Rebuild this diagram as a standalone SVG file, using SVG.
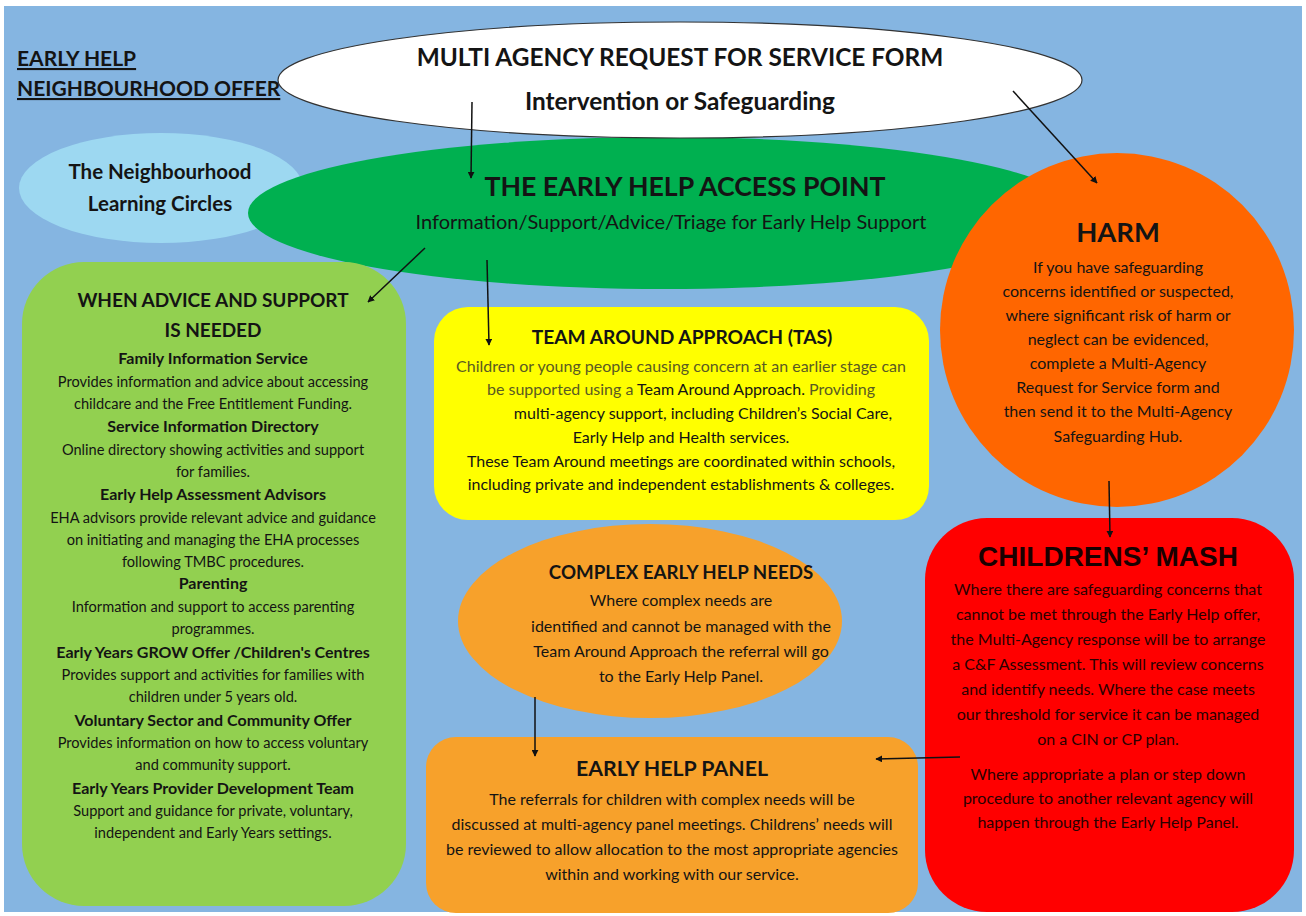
<svg xmlns="http://www.w3.org/2000/svg" width="1306" height="916" viewBox="0 0 1306 916">
<style>
text{font-family:Lato,"Open Sans","Liberation Sans",sans-serif;text-anchor:middle;fill:#141414}
.b{font-weight:bold}
.body{font-size:14.6px}
.bh{font-size:16px;font-weight:bold}
.t15{font-size:16px}
.lead{font-size:19px;font-weight:bold}
.conn line{stroke:#111;stroke-width:1.5;marker-end:url(#ah)}
.gray{fill:#5a5a22}
.dr{fill:#2a0000}
</style>
<defs>
<marker id="ah" viewBox="0 0 10 10" refX="9" refY="5" markerWidth="7" markerHeight="7" orient="auto" markerUnits="userSpaceOnUse">
<path d="M0,0 L10,5 L0,10 z" fill="#111"/>
</marker>
</defs>
<rect x="0" y="0" width="1306" height="916" fill="#fff"/>
<rect x="4" y="6" width="1298" height="906" fill="#85b5e1"/>

<g id="title">
<text x="17" y="66" style="text-anchor:start;font-size:21px;font-weight:bold;text-decoration:underline">EARLY HELP</text>
<text x="17" y="96" style="text-anchor:start;font-size:21px;font-weight:bold;text-decoration:underline">NEIGHBOURHOOD OFFER</text>
</g>

<g id="learning-circles">
<ellipse cx="161" cy="188" rx="142" ry="55" fill="#9dd8f1"/>
<text x="160" y="179" class="b" style="font-size:20.5px">The Neighbourhood</text>
<text x="160" y="211" class="b" style="font-size:20.5px">Learning Circles</text>
</g>

<g id="access-point">
<ellipse cx="664" cy="213" rx="416" ry="76" fill="#00b050"/>
<text x="685" y="196" class="b" style="font-size:26.7px">THE EARLY HELP ACCESS POINT</text>
<text x="671" y="229" style="font-size:20px">Information/Support/Advice/Triage for Early Help Support</text>
</g>

<g id="request-form">
<ellipse cx="680" cy="80" rx="402" ry="58" fill="#fff" stroke="#333" stroke-width="1.2"/>
<text x="680" y="66" class="b" style="font-size:24.4px">MULTI AGENCY REQUEST FOR SERVICE FORM</text>
<text x="680" y="110" class="b" style="font-size:24.4px">Intervention or Safeguarding</text>
</g>

<g id="harm">
<circle cx="1117" cy="330" r="177" fill="#ff6600"/>
<text x="1118" y="242" class="b" style="font-size:27.4px">HARM</text>
<text x="1118" y="273" class="t15">If you have safeguarding</text>
<text x="1118" y="297" class="t15">concerns identified or suspected,</text>
<text x="1118" y="321" class="t15">where significant risk of harm or</text>
<text x="1118" y="345" class="t15">neglect can be evidenced,</text>
<text x="1118" y="369" class="t15">complete a Multi-Agency</text>
<text x="1118" y="393" class="t15">Request for Service form and</text>
<text x="1118" y="417" class="t15">then send it to the Multi-Agency</text>
<text x="1118" y="442" class="t15">Safeguarding Hub.</text>
</g>

<g id="advice-support">
<rect x="22" y="262" width="384" height="644" rx="62" fill="#92d050"/>
<text x="213" y="307" class="lead">WHEN ADVICE AND SUPPORT</text>
<text x="213" y="337" class="lead">IS NEEDED</text>
<text x="213" y="364" class="bh">Family Information Service</text>
<text x="213" y="387" class="body">Provides information and advice about accessing</text>
<text x="213" y="409" class="body">childcare and the Free Entitlement Funding.</text>
<text x="213" y="432" class="bh">Service Information Directory</text>
<text x="213" y="455" class="body">Online directory showing activities and support</text>
<text x="213" y="477" class="body">for families.</text>
<text x="213" y="500" class="bh">Early Help Assessment Advisors</text>
<text x="213" y="523" class="body">EHA advisors provide relevant advice and guidance</text>
<text x="213" y="545" class="body">on initiating and managing the EHA processes</text>
<text x="213" y="567" class="body">following TMBC procedures.</text>
<text x="213" y="589" class="bh">Parenting</text>
<text x="213" y="612" class="body">Information and support to access parenting</text>
<text x="213" y="634" class="body">programmes.</text>
<text x="213" y="658" class="bh">Early Years GROW Offer /Children's Centres</text>
<text x="213" y="680" class="body">Provides support and activities for families with</text>
<text x="213" y="702" class="body">children under 5 years old.</text>
<text x="213" y="726" class="bh">Voluntary Sector and Community Offer</text>
<text x="213" y="748" class="body">Provides information on how to access voluntary</text>
<text x="213" y="770" class="body">and community support.</text>
<text x="213" y="794" class="bh">Early Years Provider Development Team</text>
<text x="213" y="816" class="body">Support and guidance for private, voluntary,</text>
<text x="213" y="838" class="body">independent and Early Years settings.</text>
</g>

<g id="team-around">
<rect x="434" y="307" width="495" height="213" rx="34" fill="#ffff00"/>
<text x="682" y="344" class="b" style="font-size:19.2px">TEAM AROUND APPROACH (TAS)</text>
<text x="681" y="372" class="t15 gray">Children or young people causing concern at an earlier stage can</text>
<text x="681" y="395" class="t15"><tspan class="gray">be supported using a </tspan>Team Around Approach. <tspan class="gray">Providing</tspan></text>
<text x="703" y="419" class="t15">multi-agency support, including Children’s Social Care,</text>
<text x="681" y="443" class="t15">Early Help and Health services.</text>
<text x="681" y="467" class="t15">These Team Around meetings are coordinated within schools,</text>
<text x="681" y="490" class="t15">including private and independent establishments &amp; colleges.</text>
</g>

<g id="mash">
<rect x="925" y="518" width="369" height="394" rx="62" fill="#ff0000"/>
<text x="1108" y="566" style="font-family:'Liberation Sans',Arial,sans-serif;font-weight:bold;font-size:28px;fill:#1a0000">CHILDRENS’ MASH</text>
<text x="1108" y="595" class="t15 dr">Where there are safeguarding concerns that</text>
<text x="1108" y="620" class="t15 dr">cannot be met through the Early Help offer,</text>
<text x="1108" y="645" class="t15 dr">the Multi-Agency response will be to arrange</text>
<text x="1108" y="670" class="t15 dr">a C&amp;F Assessment. This will review concerns</text>
<text x="1108" y="695" class="t15 dr">and identify needs. Where the case meets</text>
<text x="1108" y="720" class="t15 dr">our threshold for service it can be managed</text>
<text x="1108" y="745" class="t15 dr">on a CIN or CP plan.</text>
<text x="1108" y="780" class="t15 dr">Where appropriate a plan or step down</text>
<text x="1108" y="804" class="t15 dr">procedure to another relevant agency will</text>
<text x="1108" y="828" class="t15 dr">happen through the Early Help Panel.</text>
</g>

<g id="complex-needs">
<ellipse cx="650" cy="621" rx="192" ry="97" fill="#f7a12b"/>
<text x="681" y="579" class="b" style="font-size:18.7px">COMPLEX EARLY HELP NEEDS</text>
<text x="681" y="606" class="t15">Where complex needs are</text>
<text x="681" y="632" class="t15">identified and cannot be managed with the</text>
<text x="681" y="657" class="t15">Team Around Approach the referral will go</text>
<text x="681" y="682" class="t15">to the Early Help Panel.</text>
</g>

<g id="early-help-panel">
<rect x="426" y="737" width="492" height="176" rx="30" fill="#f7a12b"/>
<text x="672" y="776" class="b" style="font-size:21.3px">EARLY HELP PANEL</text>
<text x="672" y="805" class="t15">The referrals for children with complex needs will be</text>
<text x="672" y="830" class="t15">discussed at multi-agency panel meetings. Childrens’ needs will</text>
<text x="672" y="855" class="t15">be reviewed to allow allocation to the most appropriate agencies</text>
<text x="672" y="880" class="t15">within and working with our service.</text>
</g>

<g id="connectors" class="conn">
<line x1="472" y1="102" x2="471" y2="178"/>
<line x1="1013" y1="91" x2="1097" y2="183"/>
<line x1="425" y1="248" x2="368" y2="302"/>
<line x1="487" y1="260" x2="489" y2="345"/>
<line x1="1109" y1="481" x2="1110" y2="537"/>
<line x1="535" y1="697" x2="535" y2="756"/>
<line x1="960" y1="757" x2="876" y2="759"/>
</g>
</svg>
